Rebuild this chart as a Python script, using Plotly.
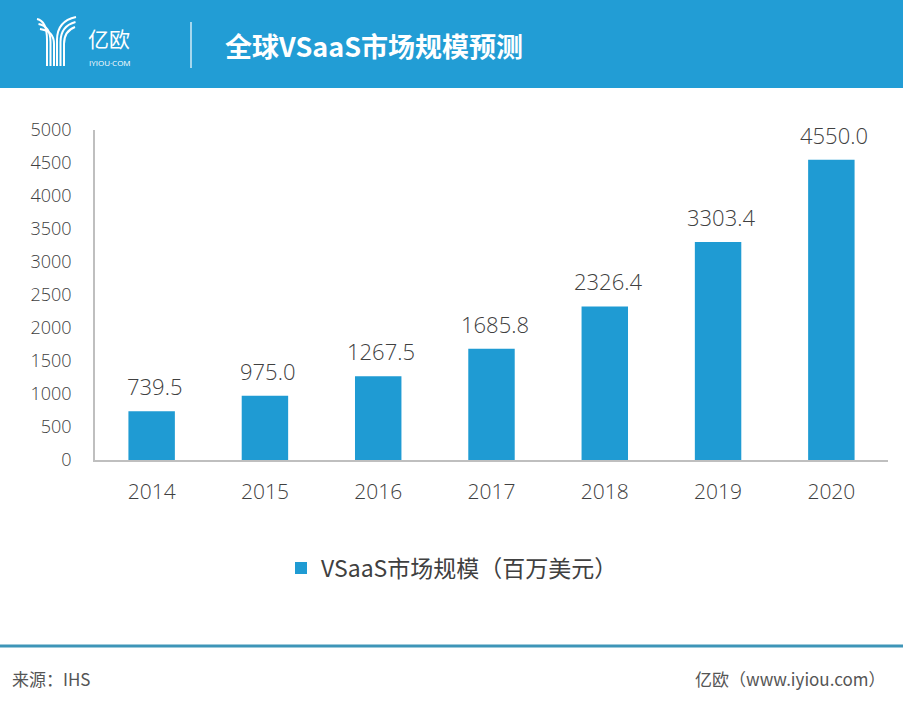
import plotly.graph_objects as go

years = ["2014", "2015", "2016", "2017", "2018", "2019", "2020"]
market_size = [739.5, 975.0, 1267.5, 1685.8, 2326.4, 3303.4, 4550.0]
value_labels = ["739.5", "975.0", "1267.5", "1685.8", "2326.4", "3303.4", "4550.0"]
y_ticks = [0, 500, 1000, 1500, 2000, 2500, 3000, 3500, 4000, 4500, 5000]
series_name = "VSaaS市场规模（百万美元）"
title_text = "全球VSaaS市场规模预测"
source_text = "来源：IHS"
brand_text = "亿欧（www.iyiou.com）"

W, H = 903, 705
L, R, T, B = 95, 15, 130, 245
PW, PH = W - L - R, H - T - B

def px(x):
    return (x - L) / PW

def py(y):
    return (H - B - y) / PH

BLUE = "#1F9BD3"
FONT = "Open Sans, Noto Sans CJK SC, sans-serif"
CJK = "Noto Sans CJK SC, sans-serif"

fig = go.Figure()
fig.add_trace(go.Bar(
    x=years, y=market_size, name=series_name,
    marker=dict(color=BLUE, line=dict(width=0)),
    width=0.41,
))

annotations = []
for i, (v, lab) in enumerate(zip(market_size, value_labels)):
    annotations.append(dict(x=i, y=v, xref="x", yref="y", text=lab,
                            showarrow=False, yanchor="bottom", yshift=8, xshift=3,
                            font=dict(size=22, color="#404040", family=FONT, weight=300)))

shapes = []
# header band
shapes.append(dict(type="rect", xref="paper", yref="paper",
                   x0=px(0), x1=px(W), y0=py(0), y1=py(88),
                   fillcolor="#229DD5", line=dict(width=0), layer="below"))
# divider
shapes.append(dict(type="line", xref="paper", yref="paper",
                   x0=px(191), x1=px(191), y0=py(22), y1=py(68),
                   line=dict(color="white", width=1.2)))
# logo strands
for i in range(3):
    xs = 47 + 3.5 * i
    path = "M {},{} Q {},{} {},{} L {},{}".format(
        px(37 + i * 1.5), py(19 + 5 * i),
        px(xs), py(21 + 5 * i),
        px(xs), py(40 + 2 * i),
        px(xs), py(66))
    shapes.append(dict(type="path", xref="paper", yref="paper", path=path,
                       line=dict(color="white", width=2)))
    xr = 57 + 3.5 * i
    path2 = "M {},{} Q {},{} {},{} L {},{}".format(
        px(76 - i * 0.5), py(17 + 5 * i),
        px(xr), py(21 + 5 * i),
        px(xr), py(40 + 2 * i),
        px(xr), py(66))
    shapes.append(dict(type="path", xref="paper", yref="paper", path=path2,
                       line=dict(color="white", width=2)))
# footer line
shapes.append(dict(type="line", xref="paper", yref="paper",
                   x0=px(0), x1=px(W), y0=py(646), y1=py(646),
                   line=dict(color="#3E95B8", width=3)))

annotations += [
    dict(text="亿欧", xref="paper", yref="paper", x=px(86), y=py(38),
         xanchor="left", yanchor="middle", showarrow=False,
         font=dict(size=21, color="white", family=CJK)),
    dict(text="IYIOU·COM", xref="paper", yref="paper", x=px(87), y=py(63),
         xanchor="left", yanchor="middle", showarrow=False,
         font=dict(size=8, color="white", family=FONT)),
    dict(text="<b>" + title_text + "</b>", xref="paper", yref="paper", x=px(223), y=py(45),
         xanchor="left", yanchor="middle", showarrow=False,
         font=dict(size=27, color="white", family=CJK)),
    dict(text=source_text, xref="paper", yref="paper", x=px(10), y=py(678),
         xanchor="left", yanchor="middle", showarrow=False,
         font=dict(size=17, color="#555555", family=CJK)),
    dict(text=brand_text, xref="paper", yref="paper", x=px(888), y=py(678),
         xanchor="right", yanchor="middle", showarrow=False,
         font=dict(size=17, color="#555555", family=CJK)),
]

fig.update_layout(
    width=W, height=H,
    margin=dict(l=L, r=R, t=T, b=B, pad=0),
    paper_bgcolor="white", plot_bgcolor="white",
    shapes=shapes, annotations=annotations,
    showlegend=True,
    legend=dict(orientation="h", x=px(452), xanchor="center", y=py(568), yanchor="middle",
                font=dict(size=23, color="#404040", family=CJK),
                itemwidth=30, bgcolor="rgba(0,0,0,0)"),
    xaxis=dict(type="category", range=[-0.5, len(years) - 0.5],
               showline=True, linecolor="#BFBFBF", linewidth=1.5, ticks="",
               tickfont=dict(size=21, color="#404040", family=FONT, weight=300),
               showgrid=False, ticklabelstandoff=12),
    yaxis=dict(range=[0, 5000], tickvals=y_ticks, showline=True, linecolor="#BFBFBF",
               linewidth=1.5, showgrid=False, zeroline=False, ticks="",
               tickfont=dict(size=18, color="#404040", family=FONT, weight=300),
               ticklabelstandoff=18),
)

fig.write_html("out.html", config={"displayModeBar": False},
               post_script="document.body.style.margin='0';")
